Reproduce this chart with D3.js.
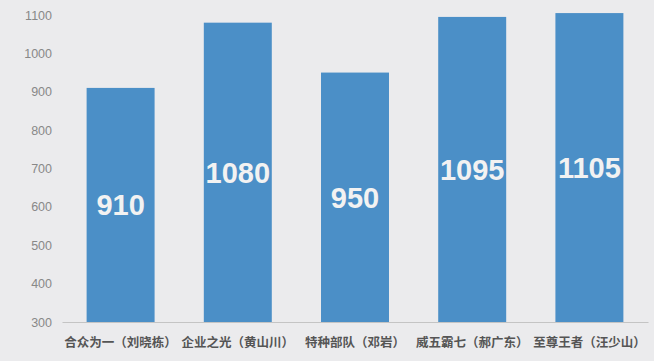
<!DOCTYPE html>
<html><head><meta charset="utf-8">
<script src="https://cdn.jsdelivr.net/npm/d3@7"></script>
<style>body{margin:0;background:#ebebed;} svg{display:block;}</style>
</head><body>
<svg id="c" width="654" height="361"></svg>
<script>
const categories = ["合众为一（刘晓栋）","企业之光（黄山川）","特种部队（邓岩）","威五霸七（郝广东）","至尊王者（汪少山）"];
const values = [910, 1080, 950, 1095, 1105];
const yTicks = [300,400,500,600,700,800,900,1000,1100];

const svg = d3.select("#c");
svg.append("rect").attr("width",654).attr("height",361).attr("fill","#ebebed");
const x = d3.scaleBand().domain(categories).range([62,648]).paddingInner(0.42).paddingOuter(0.21);
const y = d3.scaleLinear().domain([300,1100]).range([322,15]);

const yAxis = d3.axisLeft(y).tickValues(yTicks).tickFormat(d3.format("d")).tickSize(0).tickPadding(0);
const gy = svg.append("g").attr("transform","translate(52,0)").call(yAxis);
gy.select(".domain").remove();
gy.selectAll("text").attr("fill","#888").attr("font-size","12.5px").attr("font-family","Liberation Sans, Arial, sans-serif");

svg.selectAll("rect.bar").data(values).join("rect").attr("class","bar")
  .attr("x",(d,i)=>x(categories[i])).attr("width",x.bandwidth())
  .attr("y",d=>y(d)).attr("height",d=>y(300)-y(d)).attr("fill","#4b8fc7");

svg.selectAll("text.val").data(values).join("text").attr("class","val")
  .attr("x",(d,i)=>x(categories[i])+x.bandwidth()/2)
  .attr("y",d=>(y(d)+y(300))/2)
  .attr("dy","0.36em").attr("text-anchor","middle")
  .attr("fill","#f2f2f2").attr("font-size","29px").attr("font-weight","bold")
  .attr("font-family","Liberation Sans, Arial, sans-serif").text(d=>d);

const xAxis = d3.axisBottom(x).tickSize(0).tickPadding(0);
const gx = svg.append("g").attr("transform","translate(0,322)").call(xAxis);
gx.select(".domain").attr("stroke","#c4c4c4").attr("stroke-width",1.2);
gx.selectAll("text").attr("y",21).attr("dy","0.35em").attr("fill","#555").attr("font-size","12.5px").attr("font-weight","bold")
  .attr("font-family","Noto Sans CJK SC, sans-serif");
</script>
</body></html>
